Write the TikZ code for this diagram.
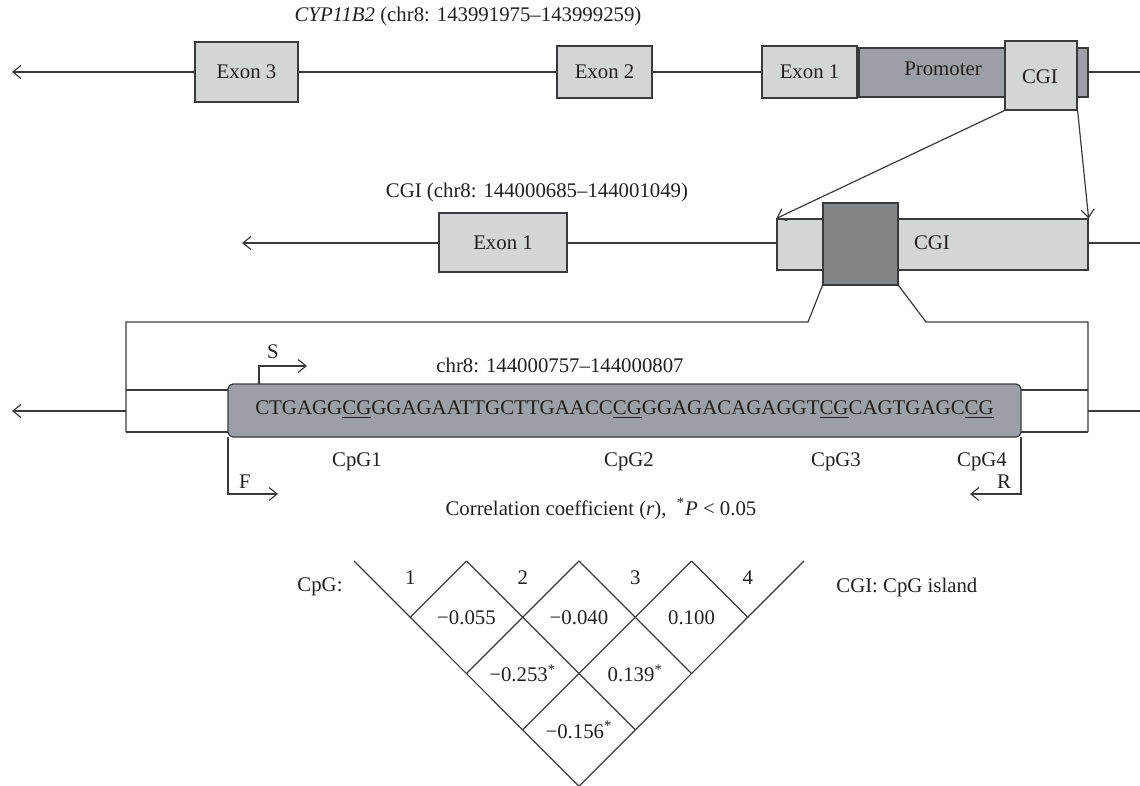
\documentclass[tikz,border=0pt]{standalone}
\usepackage{fontspec}
\setmainfont{Liberation Serif}
\usetikzlibrary{arrows.meta}
\definecolor{lc}{HTML}{3A3A3C}
\definecolor{lg}{HTML}{D4D5D7}
\definecolor{mg}{HTML}{9C9FA5}
\definecolor{dg}{HTML}{848589}
\definecolor{tc}{HTML}{231F20}
\begin{document}
\begin{tikzpicture}[x=0.5pt,y=-0.5pt,
  ln/.style={draw=lc,line width=0.6pt},
  arr/.style={ln,-{Straight Barb[length=4pt,width=6.5pt]}},
  bx/.style 2 args={draw=lc,line width=0.6pt,inner sep=0pt,minimum width=#1*0.5pt,minimum height=#2*0.5pt},
  txt/.style={text=tc,font=\fontsize{10.4}{12}\selectfont,inner sep=0pt},
]
\useasboundingbox (0,0) rectangle (1140,786);
% ---------- top row ----------
\node[txt] (ttl1) at (468,17) {\textit{CYP11B2} (chr8: 143991975–143999259)};
\coordinate (t0) at (12,72);
\coordinate (t1) at (1140,72);
\draw[arr] (t1) -- (t0);
\node[bx={103}{60},fill=lg,txt] (ex3) at (246.5,72) {Exon 3};
\node[bx={95}{52},fill=lg,txt] (ex2) at (604.5,72) {Exon 2};
\node[bx={229}{49},fill=mg] (prom) at (973.5,72.5) {};
\node[bx={95}{52},fill=lg,txt] (ex1) at (809.5,72) {Exon 1};
\node[txt] (promt) at (943,69) {Promoter};
\node[bx={72}{69},fill=lg] (cgi1) at (1041,75.5) {};
\node[txt] (cgi1t) at (1040,77) {CGI};
% ---------- middle row ----------
\node[txt] (ttl2) at (537,192) {CGI (chr8: 144000685–144001049)};
\coordinate (m0) at (242,243);
\coordinate (m1) at (1140,243);
\draw[arr] (m1) -- (m0);
\node[bx={128}{59},fill=lg,txt] (mex1) at (503,242.5) {Exon 1};
\node[bx={311}{51},fill=lg] (mcgi) at (932.5,244.5) {};
\node[txt] (mcgit) at (932,243) {CGI};
\node[bx={75}{82},fill=dg] (dark) at (860.5,244) {};
\draw[arr] (cgi1.south west) -- (mcgi.north west);
\draw[arr] (cgi1.south east) -- (mcgi.north east);
% ---------- sequence row ----------
\coordinate (bl) at (126,322);
\coordinate (br) at (1088,322);
\coordinate (s0) at (12,411);
\coordinate (s1) at (1140,411);
\draw[ln] (dark.south west) -- (808,322) -- (bl) -- (126,432);
\draw[ln] (dark.south east) -- (926,322) -- (br) -- (1088,432);
\draw[ln] (126,390) -- (1088,390);
\draw[ln] (126,432) -- (1088,432);
\draw[arr] (126,411) -- (s0);
\draw[ln] (1088,411) -- (s1);
\node[bx={793}{53},fill=mg,rounded corners=2.5pt] (seq) at (624.5,410.5) {};
\node[txt,font=\fontsize{10.45}{12}\selectfont] (seqt) at (624.5,410) {CTGAGG\underline{CG}GGAGAATTGCTTGAACC\underline{CG}GGAGACAGAGGT\underline{CG}CAGTGAGC\underline{CG}};
\node[txt] (chrs) at (560,365) {chr8: 144000757–144000807};
\coordinate (sS) at (259,383.5);
\draw[arr] (sS) |- (307,366);
\node[txt] (Sl) at (273,352) {S};
\coordinate (fF) at (228,437);
\draw[arr] (fF) |- (278,494);
\node[txt] (Fl) at (245,482) {F};
\coordinate (rR) at (1021,437);
\draw[arr] (rR) |- (970,494);
\node[txt] (Rl) at (1004,482) {R};
\node[txt] (c1) at (357,462) {CpG1};
\node[txt] (c2) at (629,462) {CpG2};
\node[txt] (c3) at (836,462) {CpG3};
\node[txt] (c4) at (982,462) {CpG4};
\node[txt] (corr) at (601,509) {Correlation coefficient (\textit{r}),\ \ \textsuperscript{*}\textit{P} < 0.05};
% ---------- triangle ----------
\coordinate (T0) at (354,561);
\coordinate (T1) at (466.5,561);
\coordinate (T2) at (579,561);
\coordinate (T3) at (691.5,561);
\coordinate (T4) at (804,561);
\coordinate (B) at (579,786.25);
\draw[ln] (T0) -- (B) -- (T4);
\draw[ln] (T1) -- ++(168.75,168.75);
\draw[ln] (T2) -- ++(112.5,112.5);
\draw[ln] (T3) -- ++(56.25,56.25);
\draw[ln] (T3) -- ++(-168.75,168.75);
\draw[ln] (T2) -- ++(-112.5,112.5);
\draw[ln] (T1) -- ++(-56.25,56.25);
\node[txt] (n1) at (410.25,578) {1};
\node[txt] (n2) at (522.75,578) {2};
\node[txt] (n3) at (635.25,578) {3};
\node[txt] (n4) at (747.75,578) {4};
\node[txt] (r12) at (466.5,617.25) {−0.055};
\node[txt] (r23) at (579,617.25) {−0.040};
\node[txt] (r34) at (691.5,617.25) {0.100};
\node[txt] (r13) at (522.75,673.5) {−0.253\textsuperscript{*}};
\node[txt] (r24) at (635.25,673.5) {0.139\textsuperscript{*}};
\node[txt] (r14) at (579,729.75) {−0.156\textsuperscript{*}};
\node[txt] (cpgl) at (320,587) {CpG:};
\node[txt,anchor=west] (legend) at (836,587) {CGI: CpG island};
\end{tikzpicture}
\end{document}
